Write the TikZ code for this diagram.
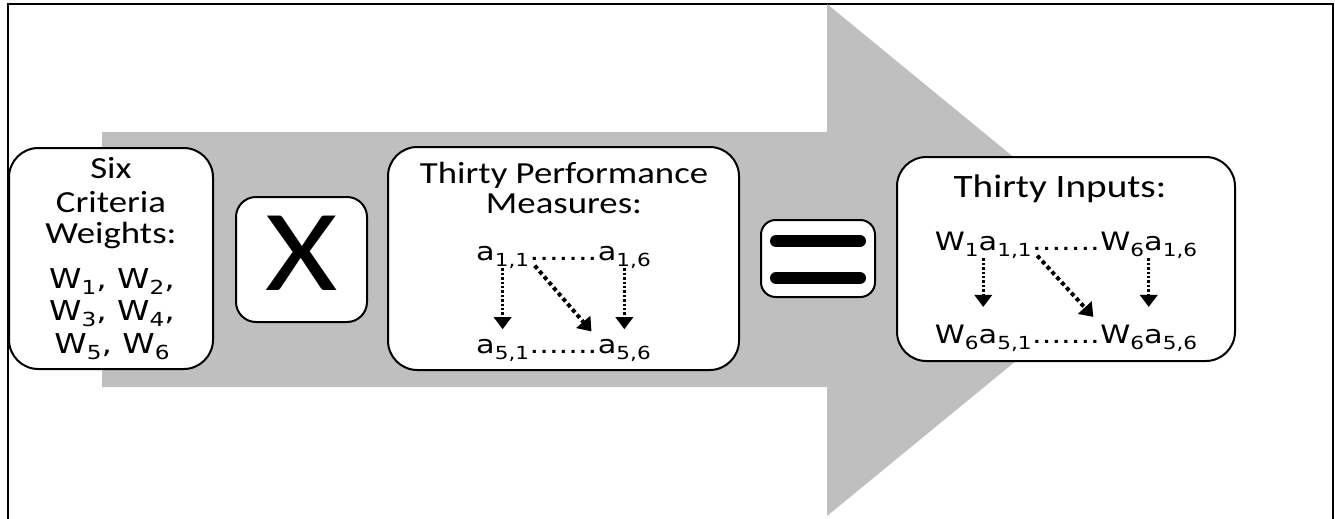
\documentclass[tikz,border=0pt]{standalone}
\usepackage{fontspec}
\setmainfont{Carlito}[FakeStretch=1.2]
\newfontfamily\formfont{DejaVu Sans}[FakeStretch=1.2]
\usetikzlibrary{arrows.meta}
\definecolor{arrowgray}{RGB}{191,191,191}
\newcommand{\lblfont}{\fontsize{23pt}{24pt}\selectfont}
\newcommand{\frmfont}{\formfont\fontsize{19pt}{22pt}\selectfont}
\newcommand{\bigfrmfont}{\formfont\fontsize{20.5pt}{22pt}\selectfont}
\newcommand{\mysub}[1]{\raisebox{-4.5pt}{\fontsize{13.5pt}{15pt}\selectfont #1}}
\newcommand{\mybigsub}[1]{\raisebox{-4.8pt}{\fontsize{14.5pt}{16pt}\selectfont #1}}
\begin{document}
\begin{tikzpicture}[x=0.75pt,y=-0.75pt,
  box/.style={draw=black, line width=1.5pt, fill=white, rounded corners=22pt, inner sep=0pt},
  lbl/.style={inner sep=0pt, anchor=base, font=\lblfont},
  frm/.style={inner sep=0pt, font=\frmfont},
  varrow/.style={line width=1.9pt, dash pattern=on 1.9pt off 1.4pt, -{Triangle[width=13pt,length=9pt]}},
  darrow/.style={line width=3pt, dash pattern=on 3pt off 2.4pt, -{Triangle[width=13.5pt,length=9.5pt]}},
  eqbar/.style={line width=9pt, line cap=round}
]
\useasboundingbox (0,0) rectangle (1335,518);
\fill[white] (0,0) rectangle (1335,518);
\draw[line width=1.5pt] (8,520) -- (8,3.5) -- (1333,3.5) -- (1333,520);
% big arrow
\fill[arrowgray] (102,132) -- (827,132) -- (827,4) -- (1139,260) -- (827,516) -- (827,387) -- (102,387) -- cycle;
% boxes
\node[box, minimum width=153pt, minimum height=165.75pt] (six) at (111,258.5) {};
\node[box, rounded corners=15pt, minimum width=98.25pt, minimum height=93.75pt] (times) at (301.5,259.5) {};
\node[box, minimum width=263.25pt, minimum height=167.25pt] (perf) at (563.5,258.5) {};
\node[box, rounded corners=11pt, minimum width=85.5pt, minimum height=57.75pt] (equals) at (818,258.5) {};
\node[box, minimum width=253.5pt, minimum height=153pt] (inputs) at (1066,259) {};
% six criteria
\node[lbl] (sixA) at (111,178) {Six};
\node[lbl] (sixB) at (111,212) {Criteria};
\node[lbl] (sixC) at (111,243) {Weights:};
\node[inner sep=0pt, font=\bigfrmfont, anchor=base] (w12) at (112,288) {W\mybigsub{1}, W\mybigsub{2},};
\node[inner sep=0pt, font=\bigfrmfont, anchor=base] (w34) at (112,320) {W\mybigsub{3}, W\mybigsub{4},};
\node[inner sep=0pt, font=\bigfrmfont, anchor=base] (w56) at (112,353) {W\mybigsub{5}, W\mybigsub{6}};
% times
\node[inner sep=0pt, anchor=base, font=\fontsize{87pt}{90pt}\selectfont] (xsym) at (301.5,290) {X};
% equals
\draw[eqbar] (776,241) -- (860,241);
\draw[eqbar] (776,278) -- (860,278);
% performance measures
\node[lbl] (perfA) at (564,183) {Thirty Performance};
\node[lbl] (perfB) at (564,213) {Measures:};
\node[frm, anchor=base] (pd1) at (563.5,260) {.......};
\node[frm, anchor=base east] (a11) at (pd1.base west) {a\mysub{1,1}};
\node[frm, anchor=base west] (a16) at (pd1.base east) {a\mysub{1,6}};
\node[frm, anchor=base] (pd5) at (563.5,353) {.......};
\node[frm, anchor=base east] (a51) at (pd5.base west) {a\mysub{5,1}};
\node[frm, anchor=base west] (a56) at (pd5.base east) {a\mysub{5,6}};
\draw[varrow, shorten >=7pt] (a11.south) -- (a51.north);
\draw[varrow, shorten >=7pt] (a16.south) -- (a56.north);
\draw[darrow, shorten >=7pt] ([xshift=4pt,yshift=2pt]a11.south east) -- (a56.north west);
% inputs
\node[inner sep=0pt, anchor=base, font=\fontsize{24.5pt}{26pt}\selectfont] (inA) at (1060,197) {Thirty Inputs:};
\node[frm, anchor=base] (id1) at (1066,250) {.......};
\node[frm, anchor=base east] (w1a11) at (id1.base west) {W\mysub{1}a\mysub{1,1}};
\node[frm, anchor=base west] (w6a16) at (id1.base east) {W\mysub{6}a\mysub{1,6}};
\node[frm, anchor=base] (id5) at (1066,343) {.......};
\node[frm, anchor=base east] (w6a51) at (id5.base west) {W\mysub{6}a\mysub{5,1}};
\node[frm, anchor=base west] (w6a56) at (id5.base east) {W\mysub{6}a\mysub{5,6}};
\draw[varrow, shorten >=13pt] (w1a11.south) -- (w6a51.north);
\draw[varrow, shorten >=13pt] (w6a16.south) -- (w6a56.north);
\draw[darrow, shorten >=7.5pt] ([xshift=4pt,yshift=2pt]w1a11.south east) -- (w6a56.north west);
\end{tikzpicture}
\end{document}
